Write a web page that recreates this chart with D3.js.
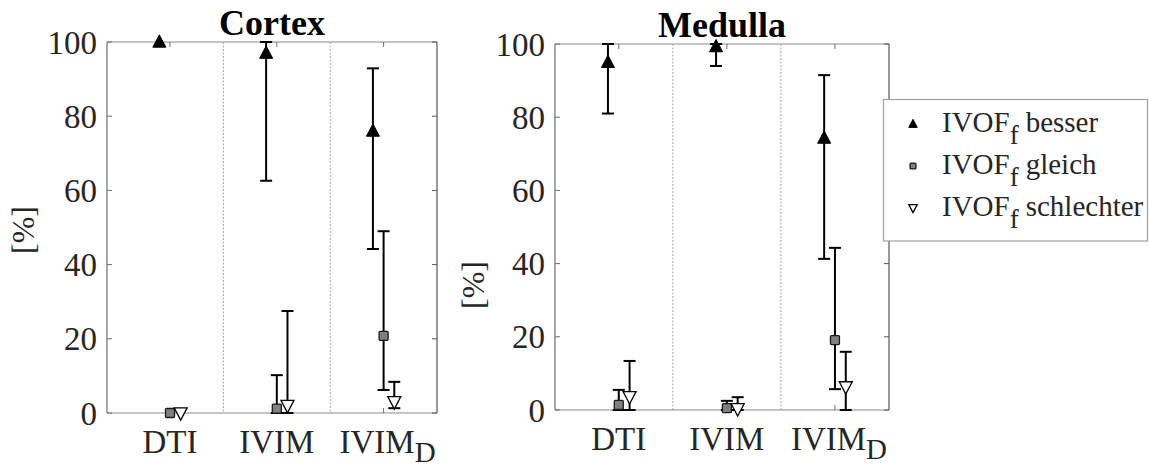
<!DOCTYPE html>
<html><head><meta charset="utf-8">
<script src="https://cdn.jsdelivr.net/npm/d3@7"></script>
<style>
html,body{margin:0;padding:0;background:#fff;}
text{font-family:"Liberation Serif","Times New Roman",serif;}
</style></head>
<body><svg id="c" width="1150" height="468"></svg>
<script>
const categories = ["DTI","IVIM","IVIM_D"];
const seriesNames = ["besser","gleich","schlechter"];
const yTicks = [0,20,40,60,80,100];
// Cortex
const cortexBesser     = [100, 97, 76];
const cortexBesserLo   = [100, 62.6, 44.2];
const cortexBesserHi   = [100, 100, 92.9];
const cortexGleich     = [0, 1.2, 20.8];
const cortexGleichLo   = [0, 0, 6.2];
const cortexGleichHi   = [0, 10.2, 49];
const cortexSchl       = [0, 2, 3];
const cortexSchlLo     = [0, 0, 1.3];
const cortexSchlHi     = [0, 27.5, 8.4];
// Medulla
const medBesser     = [95, 99.3, 74.3];
const medBesserLo   = [81, 94, 41.3];
const medBesserHi   = [100, 100, 91.5];
const medGleich     = [1.4, 0.5, 19.1];
const medGleichLo   = [0, 0, 5.7];
const medGleichHi   = [5.5, 2.5, 44.3];
const medSchl       = [3.6, 0.3, 6.3];
const medSchlLo     = [0, 0, 0];
const medSchlHi     = [13.4, 3.5, 15.9];

const svg = d3.select("#c");
const axisCol = "#8c8c8c", textCol = "#262626";

function panel(opt){
  const {x0,x1,y0,y1,title,titleY,data,ylabX,ylabY} = opt;
  const g = svg.append("g");
  const x = d3.scaleLinear().domain([0.41,3.5]).range([x0,x1]);
  const y = d3.scaleLinear().domain([0,100]).range([y1,y0]);
  [1.5,2.5].forEach(v=>{
    g.append("line").attr("x1",x(v)).attr("x2",x(v)).attr("y1",y0).attr("y2",y1)
     .attr("stroke","#a8a8a8").attr("stroke-width",1).attr("stroke-dasharray","2,1.5");
  });
  g.append("line").attr("x1",x0).attr("x2",x1).attr("y1",y0).attr("y2",y0).attr("stroke","#b0b0b0").attr("stroke-width",1.5);
  g.append("line").attr("x1",x0).attr("x2",x1).attr("y1",y1).attr("y2",y1).attr("stroke",axisCol).attr("stroke-width",1.2);
  g.append("line").attr("x1",x0).attr("x2",x0).attr("y1",y0).attr("y2",y1).attr("stroke","#6e6e6e").attr("stroke-width",1.2);
  g.append("line").attr("x1",x1).attr("x2",x1).attr("y1",y0).attr("y2",y1).attr("stroke","#555").attr("stroke-width",1.2);
  yTicks.forEach(t=>{
    g.append("line").attr("x1",x0).attr("x2",x0+5).attr("y1",y(t)).attr("y2",y(t)).attr("stroke","#6e6e6e");
    g.append("line").attr("x1",x1).attr("x2",x1-5).attr("y1",y(t)).attr("y2",y(t)).attr("stroke","#555");
    g.append("text").attr("x",x0-10).attr("y",y(t)).attr("dy","0.35em").attr("text-anchor","end")
     .attr("font-size",33).attr("fill",textCol).text(t);
  });
  categories.forEach((c,i)=>{
    const cx = x(i+1);
    g.append("line").attr("x1",cx).attr("x2",cx).attr("y1",y0).attr("y2",y0+5).attr("stroke","#6e6e6e");
    g.append("line").attr("x1",cx).attr("x2",cx).attr("y1",y1).attr("y2",y1-5).attr("stroke","#6e6e6e");
    const parts = c.split("_");
    const t = g.append("text").attr("y",y1+40).attr("font-size",33).attr("fill",textCol);
    t.append("tspan").text(parts[0]);
    if(parts[1]) t.append("tspan").attr("dy",9).attr("font-size",29).text(parts[1]);
    const w = t.node().getComputedTextLength();
    t.attr("x", cx - (parts[1] ? w/2 - 4 : w/2));
  });
  g.append("text").attr("x",(x0+x1)/2).attr("y",titleY).attr("text-anchor","middle")
   .attr("font-size",36).attr("font-weight","bold").attr("fill","#000").text(title);
  g.append("text").attr("transform",`translate(${ylabX},${ylabY}) rotate(-90)`).attr("text-anchor","middle")
   .attr("font-size",32).attr("fill",textCol).text("[%]");
  const offs = [-0.1,0,0.1];
  data.forEach((s,si)=>{
    s.v.forEach((v,i)=>{
      const cx = x(i+1+offs[si]);
      const lo = s.lo[i], hi = s.hi[i];
      if(hi>lo){
        g.append("line").attr("x1",cx).attr("x2",cx).attr("y1",y(lo)).attr("y2",y(hi)).attr("stroke","#000").attr("stroke-width",2);
        [lo,hi].forEach(e=>g.append("line").attr("x1",cx-6).attr("x2",cx+6).attr("y1",y(e)).attr("y2",y(e)).attr("stroke","#000").attr("stroke-width",2));
      }
      drawMarker(g, si, cx, y(v));
    });
  });
}
function drawMarker(g, si, cx, cy, scale=1){
  if(si===0){
    const s=6.5*scale;
    g.append("path").attr("d",`M${cx},${cy-s*1.1}L${cx+s},${cy+s*0.8}L${cx-s},${cy+s*0.8}Z`).attr("fill","#000").attr("stroke","#000").attr("stroke-width",1);
  } else if(si===1){
    const s=4.5*scale;
    g.append("rect").attr("x",cx-s).attr("y",cy-s).attr("width",2*s).attr("height",2*s).attr("rx",1)
     .attr("fill","#808080").attr("stroke","#1a1a1a").attr("stroke-width",1.3);
  } else {
    const s=6.5*scale;
    g.append("path").attr("d",`M${cx-s},${cy-s*0.8}L${cx+s},${cy-s*0.8}L${cx},${cy+s*1.1}Z`).attr("fill","#fff").attr("stroke","#000").attr("stroke-width",1.3);
  }
}

panel({x0:107,x1:437,y0:42,y1:413,title:"Cortex",titleY:35,ylabX:34,ylabY:230,
  data:[{v:cortexBesser,lo:cortexBesserLo,hi:cortexBesserHi},
        {v:cortexGleich,lo:cortexGleichLo,hi:cortexGleichHi},
        {v:cortexSchl,lo:cortexSchlLo,hi:cortexSchlHi}]});
panel({x0:555,x1:889,y0:44,y1:410,title:"Medulla",titleY:37,ylabX:484,ylabY:285,
  data:[{v:medBesser,lo:medBesserLo,hi:medBesserHi},
        {v:medGleich,lo:medGleichLo,hi:medGleichHi},
        {v:medSchl,lo:medSchlLo,hi:medSchlHi}]});

const lg = svg.append("g");
lg.append("rect").attr("x",883.5).attr("y",99.5).attr("width",264).attr("height",141.5)
  .attr("fill","#fff").attr("stroke","#a0a0a0").attr("stroke-width",1.2);
seriesNames.forEach((n,i)=>{
  const by = 132 + i*42;
  drawMarker(lg, i, 913, by-8, 0.65);
  const t = lg.append("text").attr("x",942).attr("y",by).attr("font-size",29).attr("fill",textCol);
  t.append("tspan").text("IVOF");
  t.append("tspan").attr("dy",12).attr("font-size",27).text("f");
  t.append("tspan").attr("dy",-12).attr("dx",7).text(n);
});
</script></body></html>
